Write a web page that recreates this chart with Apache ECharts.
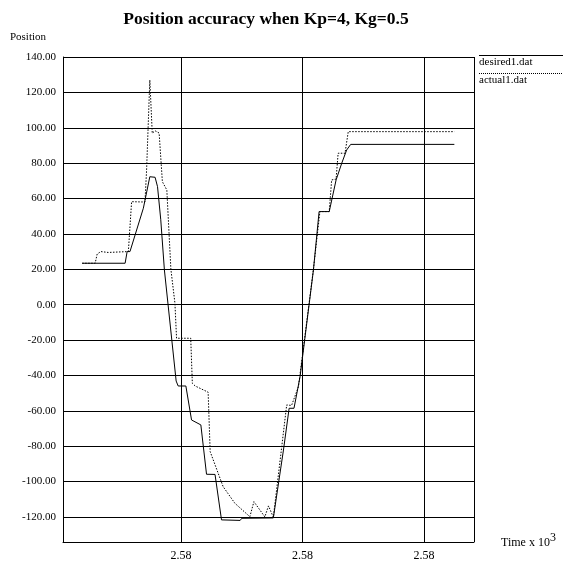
<!DOCTYPE html>
<html>
<head>
<meta charset="utf-8">
<script src="https://cdn.jsdelivr.net/npm/echarts@6/dist/echarts.min.js"></script>
<style>
html,body{margin:0;padding:0;background:#fff;}
#chart{width:563px;height:568px;}
</style>
</head>
<body>
<div id="chart"></div>
<script>
// Time (seconds) and position values
var desiredTime = [2574.56, 2575.62, 2575.67, 2575.74, 2576.07, 2576.11, 2576.23, 2576.36, 2576.42, 2576.50, 2576.59, 2576.88, 2576.93, 2577.12, 2577.26, 2577.49, 2577.63, 2577.84, 2578.00, 2578.46, 2578.50, 2579.28, 2579.53, 2579.67, 2579.79, 2579.94, 2580.27, 2580.41, 2580.66, 2580.83, 2580.97, 2581.09, 2581.19, 2583.75];
var desiredPos  = [23.4, 23.4, 30.0, 30.0, 54.5, 55.0, 72.3, 72.0, 66.7, 48.0, 19.6, -43.2, -46.0, -46.0, -65.2, -68.0, -95.9, -96.0, -121.7, -122.0, -120.8, -120.6, -82.2, -58.6, -58.6, -40.7, 19.6, 52.6, 52.6, 70.5, 80.0, 87.4, 90.6, 90.6];

var actualTime = [2574.56, 2574.88, 2574.93, 2575.02, 2575.20, 2575.70, 2575.78, 2576.11, 2576.15, 2576.23, 2576.29, 2576.36, 2576.46, 2576.54, 2576.65, 2576.75, 2576.85, 2576.89, 2577.24, 2577.28, 2577.35, 2577.67, 2577.72, 2578.04, 2578.33, 2578.70, 2578.80, 2579.07, 2579.16, 2579.28, 2579.61, 2579.73, 2579.90, 2580.27, 2580.43, 2580.66, 2580.72, 2580.83, 2580.88, 2581.05, 2581.13, 2583.75];
var actualPos  = [23.4, 23.4, 28.6, 30.0, 29.5, 30.0, 58.2, 58.0, 76.0, 127.0, 96.9, 98.3, 97.0, 69.5, 64.8, 20.0, 0.8, -19.0, -19.0, -44.5, -46.0, -49.5, -83.1, -102.9, -112.3, -119.9, -111.4, -120.0, -113.8, -120.2, -56.7, -57.0, -46.4, 20.0, 52.6, 52.6, 70.5, 71.0, 85.6, 85.6, 97.8, 97.8];

var seriesNames = ['desired1.dat', 'actual1.dat'];
var xMin = 2574.086, xMax = 2584.235;
var yMin = -134.2, yMax = 140;

function pairs(xs, ys){ return xs.map(function(x,i){ return [x, ys[i]]; }); }

var font = '"Liberation Serif", "DejaVu Serif", serif';
var chart = echarts.init(document.getElementById('chart'), null, {renderer:'canvas'});
chart.setOption({
  animation: false,
  backgroundColor: '#fff',
  title: {
    text: 'Position accuracy when Kp=4, Kg=0.5',
    left: 261, top: 5, textAlign: 'center',
    textStyle: {fontFamily: font, fontWeight: 'bold', fontSize: 17.5, color: '#000'}
  },
  grid: {left: 63, right: 89, top: 57, bottom: 26, containLabel: false},
  xAxis: {
    type: 'value', min: xMin, max: xMax, splitNumber: 3,
    name: '{a|Time x 10}{b|3}',
    nameLocation: 'end', nameGap: 27,
    nameTextStyle: {
      verticalAlign: 'middle',
      rich: {
        a: {fontFamily: font, fontSize: 12, color: '#000', padding: [1, 0, 0, 0]},
        b: {fontFamily: font, fontSize: 12, color: '#000', padding: [0, 0, 9, 0]}
      }
    },
    axisLine: {show: true, onZero: false, lineStyle: {color: '#000', width: 1}},
    axisTick: {show: false},
    splitLine: {show: true, lineStyle: {color: '#000', width: 1}},
    axisLabel: {
      showMinLabel: false, showMaxLabel: false, margin: 8,
      fontFamily: font, fontSize: 12, color: '#000',
      formatter: function(v){ return (v/1000).toFixed(2); }
    }
  },
  yAxis: {
    type: 'value', min: yMin, max: yMax, splitNumber: 14,
    name: 'Position', nameLocation: 'end', nameGap: 20,
    nameTextStyle: {fontFamily: font, fontSize: 11, color: '#000', align: 'right', verticalAlign: 'middle', padding: [0, 17, 0, 0]},
    axisLine: {show: true, onZero: false, lineStyle: {color: '#000', width: 1}},
    axisTick: {show: false},
    splitLine: {show: true, lineStyle: {color: '#000', width: 1}},
    axisLabel: {
      showMinLabel: false, margin: 7,
      fontFamily: font, fontSize: 11, color: '#000',
      formatter: function(v){ return v.toFixed(2); }
    }
  },
  graphic: [
    {type: 'line', shape: {x1: 479, y1: 55.5, x2: 563, y2: 55.5}, style: {stroke: '#000', lineWidth: 1}},
    {type: 'text', left: 479, top: 57, style: {text: seriesNames[0], font: '11px ' + font, fill: '#000'}},
    {type: 'line', shape: {x1: 479, y1: 73.5, x2: 563, y2: 73.5}, style: {stroke: '#000', lineWidth: 1, lineDash: [1, 1]}},
    {type: 'text', left: 479, top: 75, style: {text: seriesNames[1], font: '11px ' + font, fill: '#000'}}
  ],
  series: [
    {
      name: seriesNames[0], type: 'line', data: pairs(desiredTime, desiredPos),
      showSymbol: false, symbol: 'none',
      lineStyle: {color: '#000', width: 1, type: 'solid'}
    },
    {
      name: seriesNames[1], type: 'line', data: pairs(actualTime, actualPos),
      showSymbol: false, symbol: 'none',
      lineStyle: {color: '#000', width: 1, type: [1.5, 1.5]}
    }
  ]
});
</script>
</body>
</html>
